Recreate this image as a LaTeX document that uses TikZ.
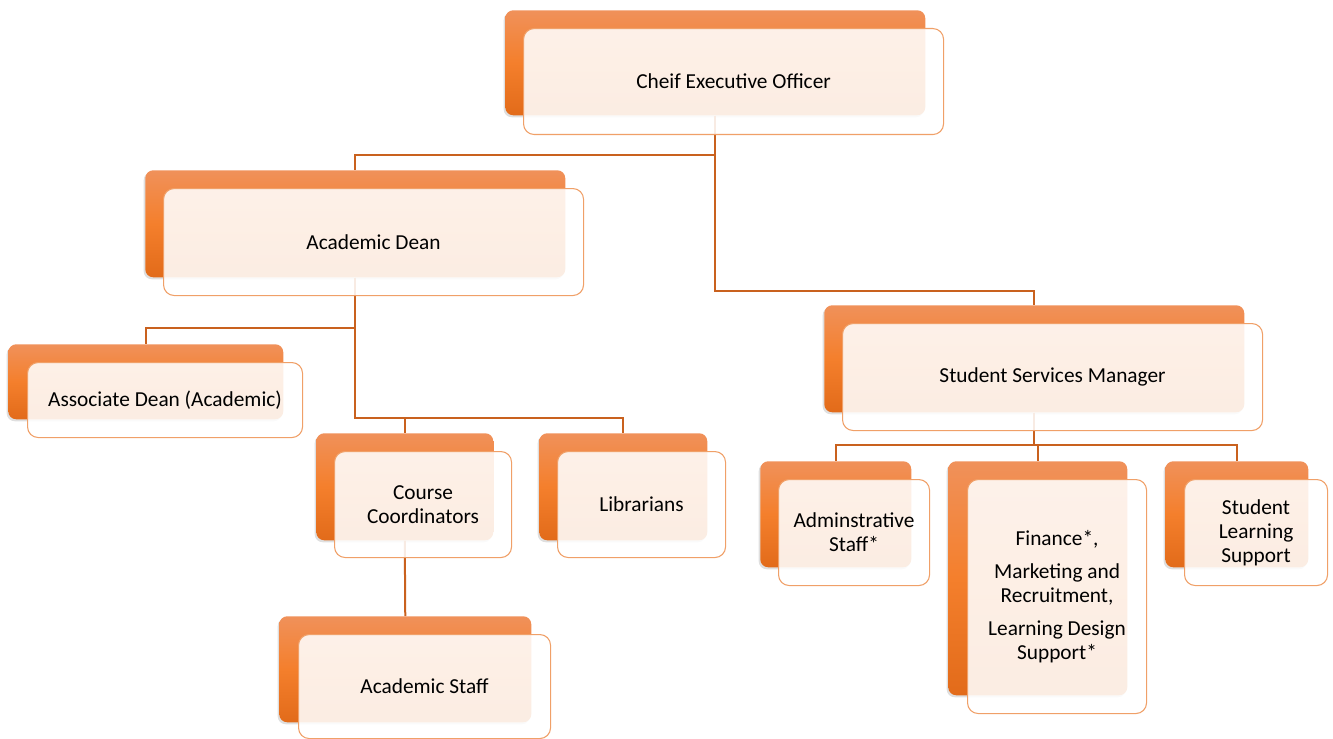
\documentclass[tikz,border=0pt]{standalone}
\usepackage{fontspec}
\setmainfont{Carlito}
\usetikzlibrary{shadows}
\definecolor{boxtop}{HTML}{F0915A}
\definecolor{boxmid}{HTML}{F47F2C}
\definecolor{boxbot}{HTML}{E26B1A}
\definecolor{boxline}{HTML}{F0A068}
\definecolor{linkline}{HTML}{C9611E}
\begin{document}
\begin{tikzpicture}[x=0.75pt,y=-0.75pt,
	boxsize/.style 2 args={minimum width={#1*0.75pt},minimum height={#2*0.75pt}},
	backbox/.style={rectangle,rounded corners=6pt,anchor=north west,inner sep=0pt,
		top color=boxtop,bottom color=boxbot,middle color=boxmid,
		drop shadow={shadow xshift=-1.2pt,shadow yshift=-1.5pt,opacity=.25}},
	frontbox/.style={rectangle,rounded corners=8pt,anchor=north west,inner sep=0pt,
		draw=boxline,line width=0.8pt,fill=white,fill opacity=0.88,text opacity=1,
		align=center,font=\fontsize{16pt}{18pt}\selectfont},
	link/.style={draw=linkline,line width=1.5pt}]
		\useasboundingbox (0,0) rectangle (1333,738);
		
		% Back boxes
		\node[backbox,boxsize={420}{105}] (ceo-b) at (505,10) {};
		\node[backbox,boxsize={420}{107}] (dean-b) at (145,170) {};
		\node[backbox,boxsize={275}{75}] (assoc-b) at (8,344) {};
		\node[backbox,boxsize={177}{107}] (course-b) at (316,433) {};
		\node[backbox,boxsize={168}{107}] (lib-b) at (539,433) {};
		\node[backbox,boxsize={252}{106}] (staff-b) at (279,616) {};
		\node[backbox,boxsize={420}{107}] (ssm-b) at (824,305) {};
		\node[backbox,boxsize={151}{106}] (admin-b) at (760,461) {};
		\node[backbox,boxsize={179}{234}] (fin-b) at (948,461) {};
		\node[backbox,boxsize={143}{106}] (sls-b) at (1165,461) {};
		
		% Connectors
		\draw[link] (ceo-b.south) -- ++(0,39) -| (dean-b.north);
		\draw[link] (ceo-b.south) -- ++(0,175) -| (ssm-b.north);
		\draw[link] (dean-b.south) -- ++(0,50) -| (assoc-b.north);
		\draw[link] (dean-b.south) -- ++(0,140) -| (course-b.north);
		\draw[link] (dean-b.south) -- ++(0,140) -| (lib-b.north);
		\draw[link] (course-b.south) -- (staff-b.north);
		\draw[link] (ssm-b.south) -- ++(0,32) -| (admin-b.north);
		\draw[link] (ssm-b.south) -- ++(0,32) -| (fin-b.north);
		\draw[link] (ssm-b.south) -- ++(0,32) -| (sls-b.north);
		
		% Front boxes
		\node[frontbox,boxsize={420}{106}] (ceo) at ([shift={(18,18)}]ceo-b.north west) {Cheif Executive Officer};
		\node[frontbox,boxsize={420}{107}] (dean) at ([shift={(18,18)}]dean-b.north west) {Academic Dean};
		\node[frontbox,boxsize={275}{75}] (assoc) at ([shift={(19,18)}]assoc-b.north west) {Associate Dean (Academic)};
		\node[frontbox,boxsize={177}{106}] (course) at ([shift={(18,18)}]course-b.north west) {Course\\Coordinators};
		\node[frontbox,boxsize={168}{106}] (lib) at ([shift={(18,18)}]lib-b.north west) {Librarians};
		\node[frontbox,boxsize={252}{104}] (staff) at ([shift={(19,18)}]staff-b.north west) {Academic Staff};
		\node[frontbox,boxsize={420}{107}] (ssm) at ([shift={(18,18)}]ssm-b.north west) {Student Services Manager};
		\node[frontbox,boxsize={151}{106}] (admin) at ([shift={(18,18)}]admin-b.north west) {Adminstrative\\Staff*};
		\node[frontbox,boxsize={179}{234}] (fin) at ([shift={(19,18)}]fin-b.north west) {Finance*,\\[7pt]Marketing and\\Recruitment,\\[7pt]Learning Design\\Support*};
		\node[frontbox,boxsize={143}{106}] (sls) at ([shift={(19,18)}]sls-b.north west) {Student\\Learning\\Support};
		
	\end{tikzpicture}
\end{document}
